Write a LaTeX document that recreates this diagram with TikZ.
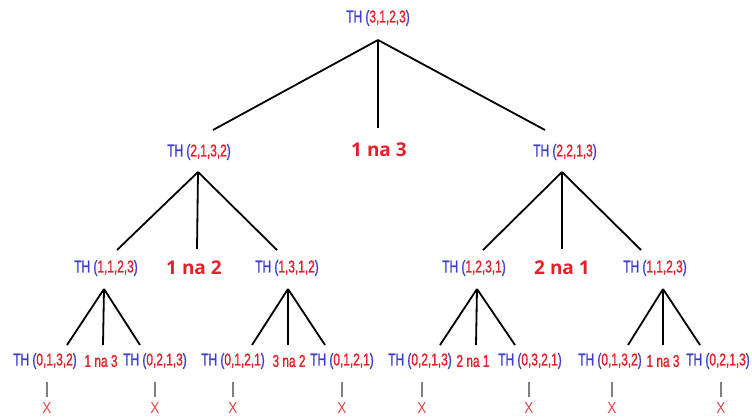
\documentclass[tikz,border=0pt]{standalone}
\usepackage{fontspec}
\usetikzlibrary{calc}
\setmainfont{Liberation Sans}
\newfontfamily\narrowf[FakeStretch=0.7,FakeBold=1.2]{Liberation Sans}
\newfontfamily\thinf[FakeStretch=0.85]{Liberation Sans}
\newfontfamily\boldsf{Open Sans}
\definecolor{thblue}{RGB}{60,60,205}
\definecolor{thred}{RGB}{228,32,40}
\newcommand\thl[1]{\textcolor{thblue}{TH (}\textcolor{thred}{#1}\textcolor{thblue}{)}}
\tikzset{
  thnode/.style={inner sep=0pt, font=\narrowf\fontsize{17}{18}\selectfont},
  bignote/.style={inner sep=0pt, text=thred, font=\boldsf\bfseries\fontsize{19}{21}\selectfont},
  smallnote/.style={inner sep=0pt, text=thred, font=\narrowf\fontsize{17}{18}\selectfont},
  edge/.style={line width=1.8pt, black},
  stub/.style={line width=1.2pt, gray},
  cross/.style={inner sep=0pt, text=thred!85, font=\thinf\fontsize{16}{17}\selectfont}
}
\begin{document}
\begin{tikzpicture}[x=1pt,y=-1pt]
\useasboundingbox (0,0) rectangle (752,416);
% root
\node[thnode] (root) at (378,18) {\thl{3,1,2,3}};
% level 1
\node[thnode] (l1a) at (199,152) {\thl{2,1,3,2}};
\node[bignote] (l1m) at (379,150) {1 na 3};
\node[thnode] (l1b) at (565,152) {\thl{2,2,1,3}};
% level 2
\node[thnode] (l2a) at (106,268) {\thl{1,1,2,3}};
\node[bignote] (l2am) at (194,268) {1 na 2};
\node[thnode] (l2b) at (287,268) {\thl{1,3,1,2}};
\node[thnode] (l2c) at (474,268) {\thl{1,2,3,1}};
\node[bignote] (l2cm) at (562,268) {2 na 1};
\node[thnode] (l2d) at (655,268) {\thl{1,1,2,3}};
% level 3
\node[thnode] (b1) at (45,361) {\thl{0,1,3,2}};
\node[smallnote] (b1m) at (101,361) {1 na 3};
\node[thnode] (b2) at (155,361) {\thl{0,2,1,3}};
\node[thnode] (b3) at (233,361) {\thl{0,1,2,1}};
\node[smallnote] (b3m) at (289,361) {3 na 2};
\node[thnode] (b4) at (342,361) {\thl{0,1,2,1}};
\node[thnode] (b5) at (420,361) {\thl{0,2,1,3}};
\node[smallnote] (b5m) at (473,361) {2 na 1};
\node[thnode] (b6) at (530,361) {\thl{0,3,2,1}};
\node[thnode] (b7) at (610,361) {\thl{0,1,3,2}};
\node[smallnote] (b7m) at (663,361) {1 na 3};
\node[thnode] (b8) at (718,361) {\thl{0,2,1,3}};
% connectors root
\draw[edge] ($(root)+(0,22)$) -- ($(l1a)+(14,-22)$);
\draw[edge] ($(root)+(0,22)$) -- ($(l1m)+(-1,-22)$);
\draw[edge] ($(root)+(0,22)$) -- ($(l1b)+(-20,-22)$);
% level 1 left
\draw[edge] ($(l1a)+(-1,20)$) -- ($(l2a)+(11,-18)$);
\draw[edge] ($(l1a)+(-1,20)$) -- ($(l2am)+(3,-19)$);
\draw[edge] ($(l1a)+(-1,20)$) -- ($(l2b)+(-10,-18)$);
% level 1 right
\draw[edge] ($(l1b)+(-3,20)$) -- ($(l2c)+(9,-18)$);
\draw[edge] ($(l1b)+(-3,20)$) -- ($(l2cm)+(0,-19)$);
\draw[edge] ($(l1b)+(-3,20)$) -- ($(l2d)+(-14,-18)$);
% level 2
\draw[edge] ($(l2a)+(-2,21)$) -- ($(b1)+(22,-16)$);
\draw[edge] ($(l2a)+(-2,21)$) -- ($(b1m)+(2,-16)$);
\draw[edge] ($(l2a)+(-2,21)$) -- ($(b2)+(-15,-16)$);
\draw[edge] ($(l2b)+(1,21)$) -- ($(b3)+(19,-16)$);
\draw[edge] ($(l2b)+(1,21)$) -- ($(b3m)+(-1,-16)$);
\draw[edge] ($(l2b)+(1,21)$) -- ($(b4)+(-17,-16)$);
\draw[edge] ($(l2c)+(3,21)$) -- ($(b5)+(20,-16)$);
\draw[edge] ($(l2c)+(3,21)$) -- ($(b5m)+(3,-16)$);
\draw[edge] ($(l2c)+(3,21)$) -- ($(b6)+(-15,-16)$);
\draw[edge] ($(l2d)+(8,21)$) -- ($(b7)+(18,-16)$);
\draw[edge] ($(l2d)+(8,21)$) -- ($(b7m)+(0,-16)$);
\draw[edge] ($(l2d)+(8,21)$) -- ($(b8)+(-18,-16)$);
% stubs and crosses
\foreach \n/\dx in {b1/2,b2/0,b3/0,b4/0,b5/2,b6/-1,b7/2,b8/3}{
  \draw[stub] ($(\n)+(\dx,21)$) -- ($(\n)+(\dx,36)$);
  \node[cross] (x\n) at ($(\n)+(\dx,47)$) {X};
}
\end{tikzpicture}
\end{document}
